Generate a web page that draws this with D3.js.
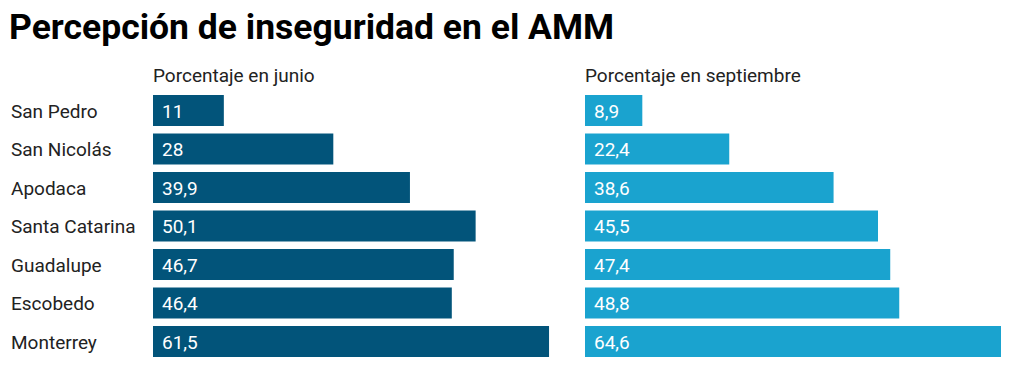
<!DOCTYPE html>
<html>
<head>
<meta charset="utf-8">
<script src="https://cdn.jsdelivr.net/npm/d3@7"></script>
<style>
  html, body { margin: 0; padding: 0; background: #fff; }
  svg { display: block; font-family: Roboto, "Noto Sans", sans-serif; }
</style>
</head>
<body>
<svg id="chart" width="1024" height="379"></svg>
<script>
const title = "Percepción de inseguridad en el AMM";
const categories = ["San Pedro", "San Nicolás", "Apodaca", "Santa Catarina", "Guadalupe", "Escobedo", "Monterrey"];
const junio = [11, 28, 39.9, 50.1, 46.7, 46.4, 61.5];
const septiembre = [8.9, 22.4, 38.6, 45.5, 47.4, 48.8, 64.6];
const seriesTitles = ["Porcentaje en junio", "Porcentaje en septiembre"];
const seriesColors = ["#02547a", "#1aa3cf"];

const svg = d3.select("#chart");
const fmt = v => String(v).replace(".", ",");

svg.append("text").attr("x", 9).attr("y", 39)
  .attr("font-size", 35.5).attr("font-weight", 700).attr("fill", "#000")
  .text(title);

const y = d3.scaleBand().domain(categories).range([91.25, 360.75])
  .paddingInner(0.195).paddingOuter(0.0975);
const x = d3.scaleLinear().domain([0, 64.6]).range([0, 416]);

svg.append("g").selectAll("text").data(categories).join("text")
  .attr("x", 11).attr("y", d => y(d) + y.bandwidth() / 2 + 7)
  .attr("font-size", 19).attr("fill", "#222").text(d => d);

const panels = [
  { x0: 153, values: junio, title: seriesTitles[0], color: seriesColors[0] },
  { x0: 585, values: septiembre, title: seriesTitles[1], color: seriesColors[1] }
];

panels.forEach(p => {
  const g = svg.append("g").attr("transform", `translate(${p.x0},0)`);
  g.append("text").attr("x", 0).attr("y", 82).attr("font-size", 19)
    .attr("fill", "#222").text(p.title);
  const data = categories.map((c, i) => ({ c, v: p.values[i] }));
  g.selectAll("rect").data(data).join("rect")
    .attr("x", x(0)).attr("y", d => y(d.c))
    .attr("width", d => x(d.v)).attr("height", y.bandwidth())
    .attr("fill", p.color);
  g.selectAll("text.v").data(data).join("text").attr("class", "v")
    .attr("x", 9).attr("y", d => y(d.c) + y.bandwidth() / 2 + 7)
    .attr("font-size", 19).attr("fill", "#fff").text(d => fmt(d.v));
});
</script>
</body>
</html>
